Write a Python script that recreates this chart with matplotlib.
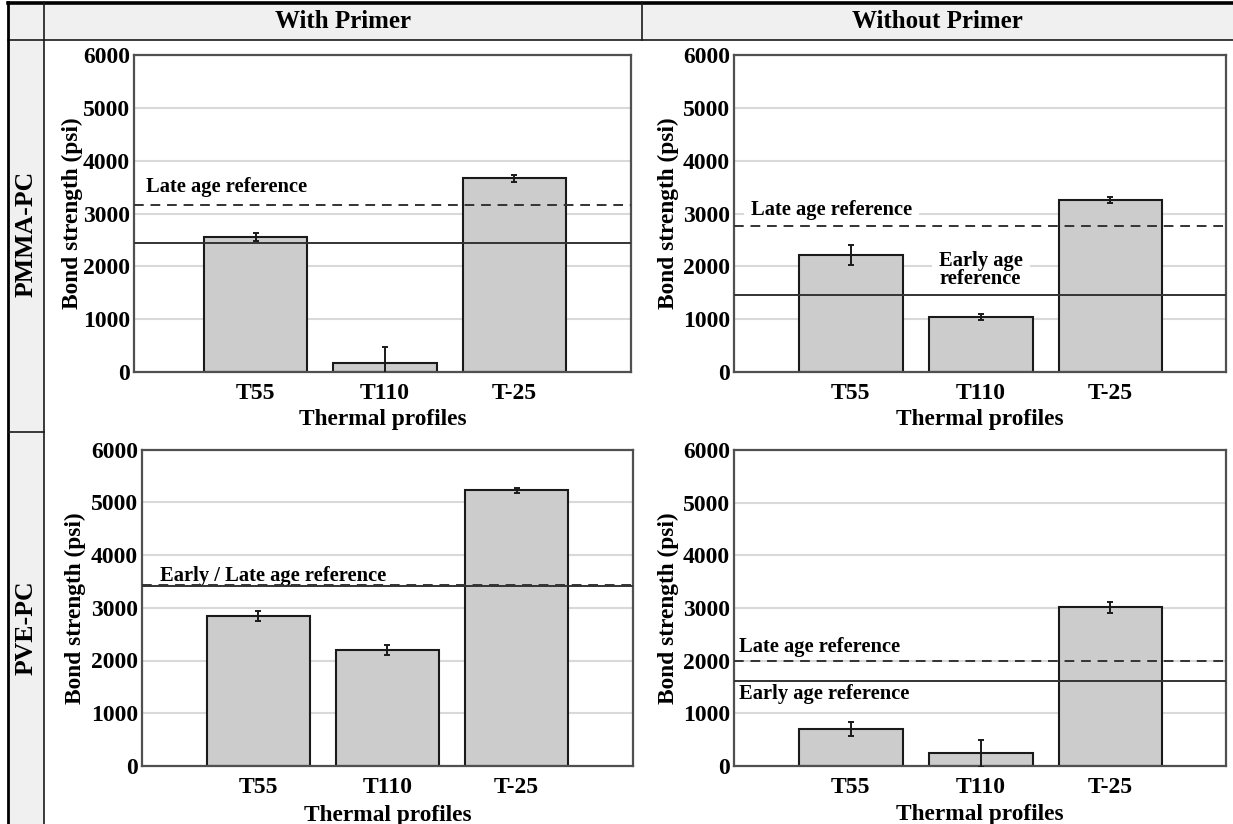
import matplotlib
matplotlib.use("Agg")
import matplotlib.pyplot as plt
from matplotlib.patches import Rectangle
from matplotlib.lines import Line2D

plt.rcParams["font.family"] = ["Liberation Serif", "DejaVu Serif"]
plt.rcParams["font.weight"] = "bold"

# ---- data -------------------------------------------------------------
profiles = ["T55", "T110", "T-25"]
col_headers = ["With Primer", "Without Primer"]
row_headers = ["PMMA-PC", "PVE-PC"]

pmma_primer = [2560, 165, 3665]
pmma_primer_err = [80, 310, 60]
pmma_noprimer = [2210, 1045, 3250]
pmma_noprimer_err = [190, 60, 60]
pve_primer = [2840, 2195, 5225]
pve_primer_err = [90, 90, 50]
pve_noprimer = [700, 240, 3015]
pve_noprimer_err = [130, 250, 105]

# reference bond strengths (psi): late age (dashed) and early age (solid)
pmma_primer_ref = (3170, 2435)
pmma_noprimer_ref = (2765, 1465)
pve_primer_ref = (3422, 3408)
pve_noprimer_ref = (2000, 1615)

y_ticks = [0, 1000, 2000, 3000, 4000, 5000, 6000]

W, H = 1233, 824
fig = plt.figure(figsize=(W / 100, H / 100), dpi=100)


def fx(px):
    return px / W


def fy(py):
    return 1 - py / H


# ---- table frame ------------------------------------------------------
grey = "#f0f0f0"
fig.add_artist(Rectangle((fx(8), fy(40)), fx(W - 8), 37 / H,
                         transform=fig.transFigure, facecolor=grey,
                         edgecolor="none", zorder=0))
fig.add_artist(Rectangle((fx(8), fy(H)), fx(36), (H - 40) / H,
                         transform=fig.transFigure, facecolor=grey,
                         edgecolor="none", zorder=0))


def hline(y, x0, x1, lw=1.2, c="#1a1a1a"):
    fig.add_artist(Line2D([fx(x0), fx(x1)], [fy(y), fy(y)],
                          transform=fig.transFigure, color=c, lw=lw))


def vline(x, y0, y1, lw=1.2, c="#1a1a1a"):
    fig.add_artist(Line2D([fx(x), fx(x)], [fy(y0), fy(y1)],
                          transform=fig.transFigure, color=c, lw=lw))


hline(2.5, 8, W, lw=2.6, c="black")
hline(40, 8, W)
vline(8, 2, H, lw=2.0, c="black")
vline(44, 2, H)
vline(642, 2, 40)
hline(432, 8, 44)

fig.text(fx(343), fy(21.5), col_headers[0], ha="center", va="center",
         fontsize=18, fontweight="bold")
fig.text(fx(937), fy(21.5), col_headers[1], ha="center", va="center",
         fontsize=18, fontweight="bold")
fig.text(fx(26), fy(234), row_headers[0], ha="center", va="center",
         rotation=90, fontsize=18.5, fontweight="bold")
fig.text(fx(26), fy(628), row_headers[1], ha="center", va="center",
         rotation=90, fontsize=18.5, fontweight="bold")

# ---- panels -----------------------------------------------------------
panels = [
    dict(rect=[134, 55, 630.7, 372], xlim=(-0.94, 2.9),
         vals=pmma_primer, err=pmma_primer_err, ref=pmma_primer_ref,
         ylab_x=-0.124, xlab_y=-0.151,
         notes=[("Late age reference", -0.85, 3500, "left", False)]),
    dict(rect=[734, 55, 1226, 372], xlim=(-0.9, 2.89),
         vals=pmma_noprimer, err=pmma_noprimer_err, ref=pmma_noprimer_ref,
         ylab_x=-0.134, xlab_y=-0.151,
         notes=[("Late age reference", -0.77, 3066, "left", True),
                ("Early age\nreference", 1.0, 1930, "center", True)]),
    dict(rect=[142, 449.5, 633, 766], xlim=(-0.9, 2.9),
         vals=pve_primer, err=pve_primer_err, ref=pve_primer_ref,
         ylab_x=-0.136, xlab_y=-0.156,
         notes=[("Early / Late age reference", -0.76, 3600, "left", False)]),
    dict(rect=[734, 450, 1226, 766], xlim=(-0.9, 2.89),
         vals=pve_noprimer, err=pve_noprimer_err, ref=pve_noprimer_ref,
         ylab_x=-0.134, xlab_y=-0.155,
         notes=[("Late age reference", -0.86, 2265, "left", False),
                ("Early age reference", -0.86, 1367, "left", False)]),
]

for p in panels:
    x0, y0, x1, y1 = p["rect"]
    ax = fig.add_axes([fx(x0), fy(y1), (x1 - x0) / W, (y1 - y0) / H])
    xs = list(range(len(profiles)))
    ax.bar(xs, p["vals"], width=0.8, color="#cccccc", edgecolor="#1a1a1a",
           linewidth=1.5, zorder=2)
    ax.errorbar(xs, p["vals"], yerr=p["err"], fmt="none", ecolor="#1a1a1a",
                elinewidth=1.4, capsize=2.2, capthick=1.4, zorder=3)
    late, early = p["ref"]
    ax.axhline(late, color="#333333", lw=1.4, ls=(0, (5, 3.5)), zorder=4)
    ax.axhline(early, color="#333333", lw=1.4, zorder=4)

    ax.set_xlim(*p["xlim"])
    ax.set_ylim(0, 6000)
    ax.set_yticks(y_ticks)
    ax.set_xticks(xs)
    ax.set_xticklabels(profiles)
    ax.tick_params(axis="both", length=0, labelsize=17)
    ax.tick_params(axis="x", pad=8)
    ax.tick_params(axis="y", pad=3)
    for lab in ax.get_xticklabels() + ax.get_yticklabels():
        lab.set_fontweight("bold")
    ax.grid(axis="y", color="#d9d9d9", lw=1.5, zorder=0)
    ax.set_axisbelow(True)
    for s in ax.spines.values():
        s.set_color("#505050")
        s.set_linewidth(1.6)

    ax.set_ylabel("Bond strength (psi)", fontsize=16.8, fontweight="bold")
    ax.yaxis.set_label_coords(p["ylab_x"], 0.5)
    ax.yaxis.label.set_va("center")
    ax.set_xlabel("Thermal profiles", fontsize=16.8, fontweight="bold")
    ax.xaxis.set_label_coords(0.5, p["xlab_y"])
    ax.xaxis.label.set_va("center")

    for text, tx, ty, ha, boxed in p["notes"]:
        kw = {}
        if boxed:
            kw["bbox"] = dict(boxstyle="square,pad=0.35", facecolor="white",
                              edgecolor="none")
        ax.text(tx, ty, text, ha=ha, va="center", fontsize=14.8,
                fontweight="bold", linespacing=0.85, zorder=1, **kw)

fig.savefig("out.png", dpi=100)
